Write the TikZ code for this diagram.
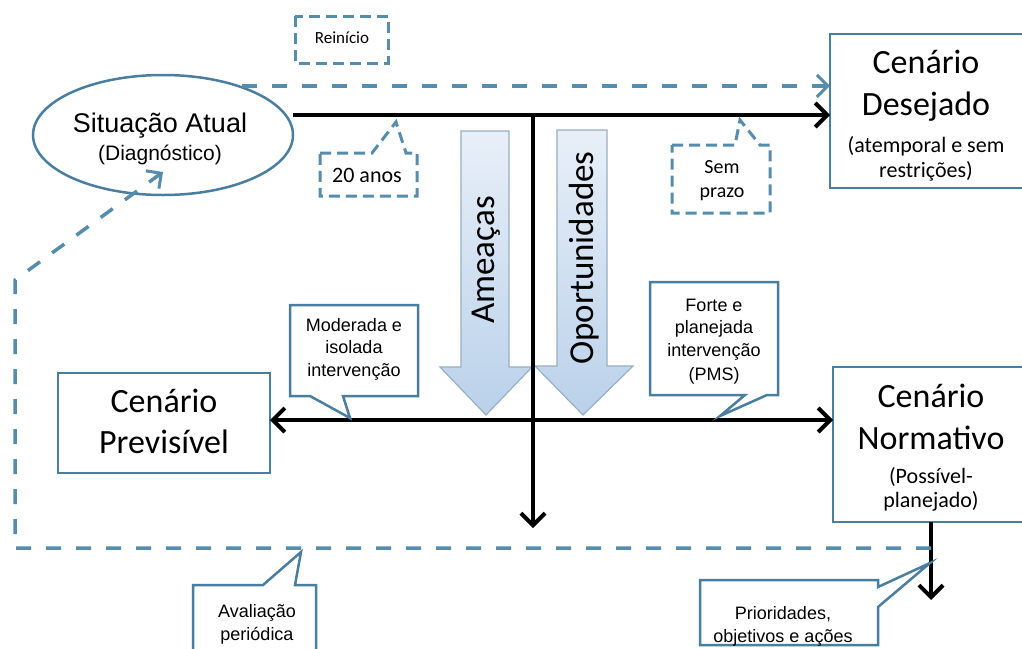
\documentclass[tikz,border=0pt]{standalone}
\usepackage{fontspec}
\setmainfont{Carlito}
\newfontfamily\arialf{Liberation Sans}
\usetikzlibrary{shapes.geometric,arrows.meta}
\definecolor{bcol}{RGB}{74,126,160}
\definecolor{dcol}{RGB}{86,140,172}
\definecolor{atop}{RGB}{232,239,248}
\definecolor{abot}{RGB}{186,209,234}
\definecolor{aedge}{RGB}{150,176,196}
\newcommand{\fsz}[1]{\fontsize{#1}{#1}\selectfont}
\begin{document}
\begin{tikzpicture}[x=1pt,y=-1pt,
  box/.style={draw=bcol,line width=2.5pt,fill=white,inner sep=0pt,outer sep=0pt},
  txt/.style={inner sep=0pt,outer sep=0pt,anchor=base},
  big/.style={txt,font=\fsz{34}},
  sub/.style={txt,font=\fsz{22}},
  ar/.style={txt,font=\arialf\fsz{18}},
  blk/.style={draw=black,line width=4pt},
  blktip/.tip={Straight Barb[length=12pt,width=24pt]},
  dsh/.style={draw=dcol,line width=3.5pt,dash pattern=on 15pt off 15pt},
  dshtip/.tip={Straight Barb[length=11pt,width=22pt,line width=3pt]},
  callout/.style={draw=bcol,line width=2.5pt,fill=white,line join=miter},
  dcallout/.style={draw=dcol,line width=3pt,dash pattern=on 11pt off 6pt,fill=white}
]
\fill[white] (0,0) rectangle (1022,648);
\useasboundingbox (0,0) rectangle (1022,648);

% block arrows: threats and opportunities
\shade[top color=atop,bottom color=abot,draw=aedge,line width=1.2pt]
  (461,131)--(509,131)--(509,367)--(532,367)--(486,415)--(440,367)--(461,367)--cycle;
\shade[top color=atop,bottom color=abot,draw=aedge,line width=1.2pt]
  (557,130)--(607,130)--(607,366)--(633,366)--(583,415)--(535,366)--(557,366)--cycle;
\node[txt,font=\fsz{35},rotate=90] (ame) at (494,260) {Ameaças};
\node[txt,font=\fsz{35},rotate=90] (opo) at (593,258) {Oportunidades};

% scenario boxes
\node[draw=bcol,line width=2.5pt,ellipse,fill=white,minimum width=260pt,minimum height=120pt,inner sep=0pt] (atual) at (163,135) {};
\node[box,minimum width=196pt,minimum height=154pt] (desejado) at (928,111) {};
\node[box,minimum width=196pt,minimum height=155pt] (normativo) at (931,444.5) {};
\node[box,minimum width=212pt,minimum height=100pt] (previsivel) at (164,423) {};

\node[txt,font=\arialf\fsz{27}] (at1) at (160,132) {Situação Atual};
\node[txt,font=\arialf\fsz{21}] (at2) at (160,160) {(Diagnóstico)};

\node[big] (des1) at (926,73) {Cenário};
\node[big] (des2) at (926,115) {Desejado};
\node[sub] (des3) at (926,152) {(atemporal e sem};
\node[sub] (des4) at (926,177) {restrições)};

\node[big] (nor1) at (931,407) {Cenário};
\node[big] (nor2) at (931,449) {Normativo};
\node[sub] (nor3) at (931,483) {(Possível-};
\node[sub] (nor4) at (931,507) {planejado)};

\node[big] (pre1) at (164,412) {Cenário};
\node[big] (pre2) at (164,453) {Previsível};

% black connectors
\coordinate (sa) at (293,115);
\coordinate (vtop) at (533,115);
\coordinate (vend) at (533,528);
\coordinate (hmid) at (533,420);
\coordinate (nend) at (931,600);
\draw[blk,-blktip] (sa) -- (sa -| desejado.west);
\draw[blk,-blktip] (vtop) -- (vend);
\draw[blk,blktip-blktip] (hmid -| previsivel.east) -- (hmid -| normativo.west);
\draw[blk,-blktip] (normativo.south) -- (nend);

% dashed feedback loops
\coordinate (rtop) at (atual.32);
\draw[dsh,-dshtip] (rtop) -- (rtop -| desejado.west);
\coordinate (lstart) at (931,548);
\coordinate (lc1) at (15,548);
\coordinate (lc2) at (15,280);
\coordinate (ltip) at (163,172);
\draw[dsh,-dshtip] (lstart) -- (lc1) -- (lc2) -- (ltip);

% dashed notes
\draw[dcallout] (295,16) rectangle (388,63);
\node[txt,font=\fsz{17}] (rei) at (342,43) {Reinício};
\draw[dcallout] (320,153)--(372,153)--(396,122)--(406,153)--(417,153)--(417,196)--(320,196)--cycle;
\node[txt,font=\fsz{22}] (anos) at (367,182) {20 anos};
\draw[dcallout] (672,145)--(735,145)--(740,120)--(760,145)--(770,145)--(770,213)--(672,213)--cycle;
\node[txt,font=\fsz{20}] (sem1) at (722,173) {Sem};
\node[txt,font=\fsz{20}] (sem2) at (722,197) {prazo};

% solid notes
\draw[callout] (290,305)--(418,305)--(418,396)--(343,396)--(350,418)--(310,396)--(290,396)--cycle;
\node[ar] (mod1) at (354,331) {Moderada e};
\node[ar] (mod2) at (354,353) {isolada};
\node[ar] (mod3) at (354,376) {intervenção};

\draw[callout] (650,282)--(778,282)--(778,395)--(767,395)--(720,416)--(745,395)--(650,395)--cycle;
\node[ar] (for1) at (714,311) {Forte e};
\node[ar] (for2) at (714,333) {planejada};
\node[ar] (for3) at (714,356) {intervenção};
\node[ar] (for4) at (714,380) {(PMS)};

\draw[callout] (193,585)--(263,585)--(301,552)--(295,585)--(316,585)--(316,652)--(193,652)--cycle;
\node[ar] (ava1) at (257,617) {Avaliação};
\node[ar] (ava2) at (257,640) {periódica};

\draw[callout] (700,580)--(878,580)--(878,587)--(930,563)--(878,607)--(878,645)--(700,645)--cycle;
\node[ar] (pri1) at (783,619) {Prioridades,};
\node[ar] (pri2) at (783,642) {objetivos e ações};
\end{tikzpicture}
\end{document}
